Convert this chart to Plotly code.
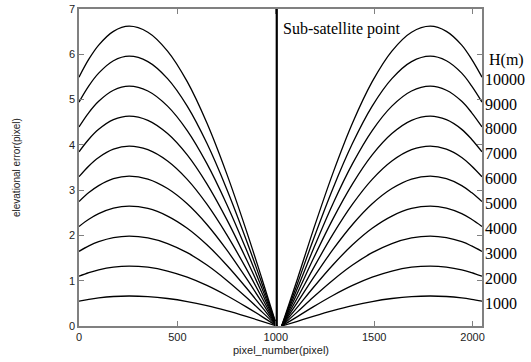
import plotly.graph_objects as go

# ---- data ----
left_x = [0, 50, 100, 175, 255, 350, 450, 550, 650, 750, 850, 930, 1005]
right_x = [2048, 1995, 1945, 1867, 1785, 1690, 1590, 1490, 1390, 1290, 1190, 1110, 1030]
heights = ["1000", "2000", "3000", "4000", "5000", "6000", "7000", "8000", "9000", "10000"]
err_1000 = [0.549, 0.589, 0.620, 0.651, 0.662, 0.649, 0.607, 0.540, 0.448, 0.337, 0.211, 0.104, 0]
err_2000 = [1.099, 1.178, 1.241, 1.302, 1.324, 1.298, 1.214, 1.079, 0.896, 0.674, 0.422, 0.208, 0]
err_3000 = [1.648, 1.768, 1.861, 1.952, 1.986, 1.946, 1.821, 1.619, 1.345, 1.011, 0.634, 0.312, 0]
err_4000 = [2.198, 2.357, 2.481, 2.603, 2.648, 2.595, 2.428, 2.158, 1.793, 1.348, 0.845, 0.416, 0]
err_5000 = [2.747, 2.946, 3.101, 3.254, 3.310, 3.244, 3.035, 2.698, 2.241, 1.685, 1.056, 0.520, 0]
err_6000 = [3.297, 3.535, 3.722, 3.904, 3.972, 3.893, 3.642, 3.237, 2.689, 2.022, 1.267, 0.624, 0]
err_7000 = [3.846, 4.124, 4.342, 4.555, 4.634, 4.541, 4.249, 3.777, 3.137, 2.359, 1.478, 0.728, 0]
err_8000 = [4.396, 4.713, 4.962, 5.206, 5.296, 5.190, 4.856, 4.316, 3.585, 2.696, 1.689, 0.831, 0]
err_9000 = [4.945, 5.303, 5.583, 5.857, 5.958, 5.839, 5.463, 4.856, 4.034, 3.033, 1.901, 0.935, 0]
err_10000 = [5.495, 5.892, 6.203, 6.507, 6.620, 6.488, 6.071, 5.395, 4.482, 3.370, 2.112, 1.039, 0]
sub_satellite_x = 1005
x_ticks = [0, 500, 1000, 1500, 2000]
y_ticks = [0, 1, 2, 3, 4, 5, 6, 7]

series = [err_1000, err_2000, err_3000, err_4000, err_5000,
          err_6000, err_7000, err_8000, err_9000, err_10000]

fig = go.Figure()
for vals in series:
    for xs in (left_x, right_x):
        fig.add_trace(go.Scatter(x=xs, y=vals, mode="lines",
                                 line=dict(color="black", width=1.3, shape="spline", smoothing=1.0),
                                 showlegend=False, hoverinfo="skip"))

fig.add_shape(type="line", x0=sub_satellite_x, x1=sub_satellite_x, xref="x",
              y0=0, y1=1, yref="paper", line=dict(color="black", width=2.2))

serif = "Liberation Serif, Times New Roman, serif"
fig.add_annotation(x=sub_satellite_x, y=6.56, xref="x", yref="y", text="Sub-satellite point",
                   showarrow=False, xanchor="left", yanchor="middle", xshift=4,
                   font=dict(family=serif, size=16, color="black"))

for lab, vals in zip(heights, series):
    fig.add_annotation(x=2048, y=vals[0], xref="x", yref="y", text=lab, showarrow=False,
                       xanchor="left", yanchor="middle", xshift=1, yshift=-2,
                       font=dict(family=serif, size=16, color="black"))
fig.add_annotation(x=2048, y=err_10000[0], xref="x", yref="y", text="H(m)", showarrow=False,
                   xanchor="left", yanchor="middle", xshift=5, yshift=17,
                   font=dict(family=serif, size=16, color="black"))

sans = "Liberation Sans, Arial, sans-serif"
fig.add_annotation(x=0.5, y=-0.076, xref="paper", yref="paper", text="pixel_number(pixel)",
                   showarrow=False, xanchor="center", yanchor="middle",
                   font=dict(family=sans, size=11, color="#222"))
fig.add_annotation(x=-0.155, y=0.5, xref="paper", yref="paper", text="elevational error(pixel)",
                   showarrow=False, xanchor="center", yanchor="middle", textangle=-90,
                   font=dict(family=sans, size=10, color="#222"))

axis_common = dict(showgrid=False, zeroline=False, showline=True, linecolor="#808080",
                   linewidth=1.5, mirror="ticks", ticks="inside", ticklen=5,
                   tickcolor="#808080", tickwidth=1, automargin=False,
                   tickfont=dict(family=sans, size=11, color="#222"))

fig.update_xaxes(range=[0, 2048], tickvals=x_ticks, ticktext=[str(v) for v in x_ticks],
                 **axis_common)
fig.update_yaxes(range=[0, 7], tickvals=y_ticks, **axis_common)

fig.update_layout(width=531, height=362, margin=dict(l=79, r=49, t=9, b=36),
                  paper_bgcolor="white", plot_bgcolor="white")

fig.write_html("out.html", config={"displayModeBar": False},
               post_script="document.body.style.margin='0';")
